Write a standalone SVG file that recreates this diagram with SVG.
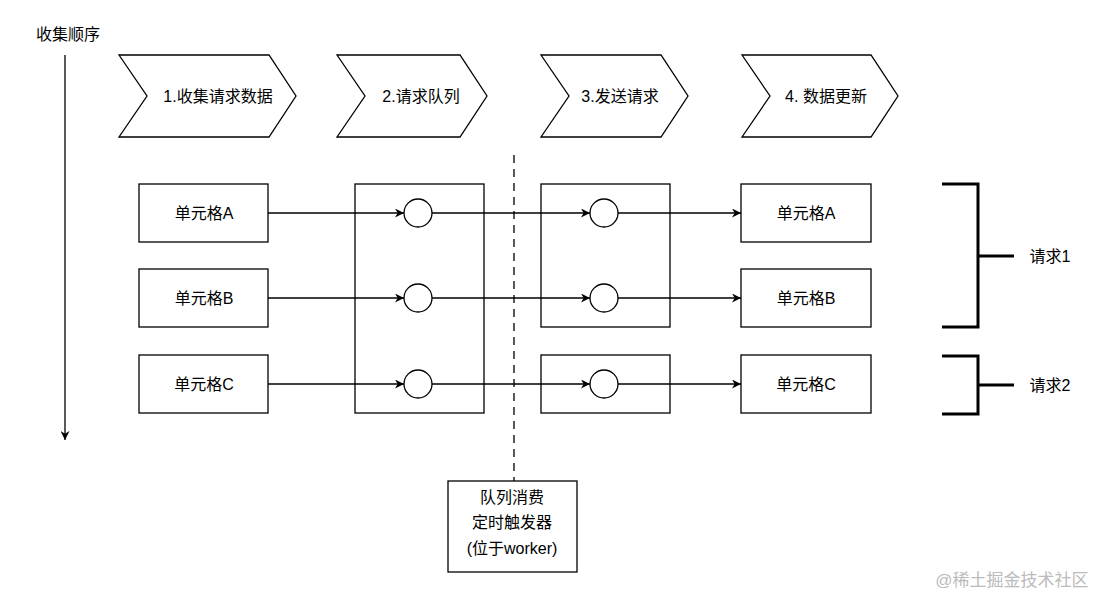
<svg xmlns="http://www.w3.org/2000/svg" width="1099" height="596" viewBox="0 0 1099 596">
<style>
text{font-family:"Liberation Sans","Noto Sans CJK SC",sans-serif;font-size:16px;fill:#000;text-anchor:middle;dominant-baseline:central}
.s{fill:#fff;stroke:#000;stroke-width:1.3}
.l{stroke:#000;stroke-width:1.3;fill:none}
.b{stroke:#000;stroke-width:3;fill:none}
</style>
<defs><marker id="a" viewBox="0 0 10 10" refX="10" refY="5" markerWidth="9" markerHeight="9" orient="auto" markerUnits="userSpaceOnUse"><path d="M0,0 L10,5 L0,10 L3,5 Z" fill="#000"/></marker></defs>
<rect width="1099" height="596" fill="#fff"/>
<text x="68" y="34">收集顺序</text>
<g id="connectors">
<line class="l" x1="65" y1="55" x2="65" y2="440" marker-end="url(#a)"/>
<line class="l" x1="514" y1="155" x2="514" y2="485" stroke-dasharray="8,6"/>
<line class="l" x1="256" y1="213" x2="404" y2="213" marker-end="url(#a)"/>
<line class="l" x1="256" y1="298" x2="404" y2="298" marker-end="url(#a)"/>
<line class="l" x1="256" y1="384" x2="404" y2="384" marker-end="url(#a)"/>
<line class="l" x1="432" y1="213" x2="590" y2="213" marker-end="url(#a)"/>
<line class="l" x1="432" y1="298" x2="590" y2="298" marker-end="url(#a)"/>
<line class="l" x1="432" y1="384" x2="590" y2="384" marker-end="url(#a)"/>
<line class="l" x1="618" y1="213" x2="741" y2="213" marker-end="url(#a)"/>
<line class="l" x1="618" y1="298" x2="741" y2="298" marker-end="url(#a)"/>
<line class="l" x1="618" y1="384" x2="741" y2="384" marker-end="url(#a)"/>
</g>
<g id="step1"><path class="s" d="M119,55 H269 L296,96 L269,137 H119 L147,96 Z"/><text x="218" y="96">1.收集请求数据</text></g>
<g id="step2"><path class="s" d="M337,55 H460 L487,96 L460,137 H337 L365,96 Z"/><text x="421" y="96">2.请求队列</text></g>
<g id="step3"><path class="s" d="M541,55 H661 L688,96 L661,137 H541 L569,96 Z"/><text x="620" y="96">3.发送请求</text></g>
<g id="step4"><path class="s" d="M742,55 H871 L898,96 L871,137 H742 L770,96 Z"/><text x="826" y="96">4. 数据更新</text></g>
<g id="cellA"><rect class="s" x="139" y="184" width="129" height="58"/><text x="204" y="213">单元格A</text></g>
<g id="cellB"><rect class="s" x="139" y="269" width="129" height="58"/><text x="204" y="298">单元格B</text></g>
<g id="cellC"><rect class="s" x="139" y="355" width="129" height="58"/><text x="204" y="384">单元格C</text></g>
<g id="queue"><rect class="l" x="355" y="184" width="129" height="229"/></g>
<g id="send1"><rect class="l" x="541" y="184" width="129" height="143"/></g>
<g id="send2"><rect class="l" x="541" y="355" width="129" height="58"/></g>
<g id="q1"><circle class="s" cx="418" cy="213" r="14"/></g>
<g id="q2"><circle class="s" cx="418" cy="298" r="14"/></g>
<g id="q3"><circle class="s" cx="418" cy="384" r="14"/></g>
<g id="s1"><circle class="s" cx="604" cy="213" r="14"/></g>
<g id="s2"><circle class="s" cx="604" cy="298" r="14"/></g>
<g id="s3"><circle class="s" cx="604" cy="384" r="14"/></g>
<g id="outA"><rect class="s" x="741" y="184" width="130" height="58"/><text x="806" y="213">单元格A</text></g>
<g id="outB"><rect class="s" x="741" y="269" width="130" height="58"/><text x="806" y="298">单元格B</text></g>
<g id="outC"><rect class="s" x="741" y="355" width="130" height="58"/><text x="806" y="384">单元格C</text></g>
<g id="req1"><path class="b" d="M942,184 H978 V327 H942 M978,256 H1014"/><text x="1050" y="256">请求1</text></g>
<g id="req2"><path class="b" d="M942,356 H978 V414 H942 M978,385 H1014"/><text x="1050" y="385">请求2</text></g>
<g id="timer"><rect class="s" x="448" y="481" width="129" height="91"/><text x="512" y="497">队列消费</text><text x="512" y="522">定时触发器</text><text x="512" y="548">(位于worker)</text></g>
<text x="1012" y="580" style="fill:#bbb;font-size:17px">@稀土掘金技术社区</text>
</svg>
